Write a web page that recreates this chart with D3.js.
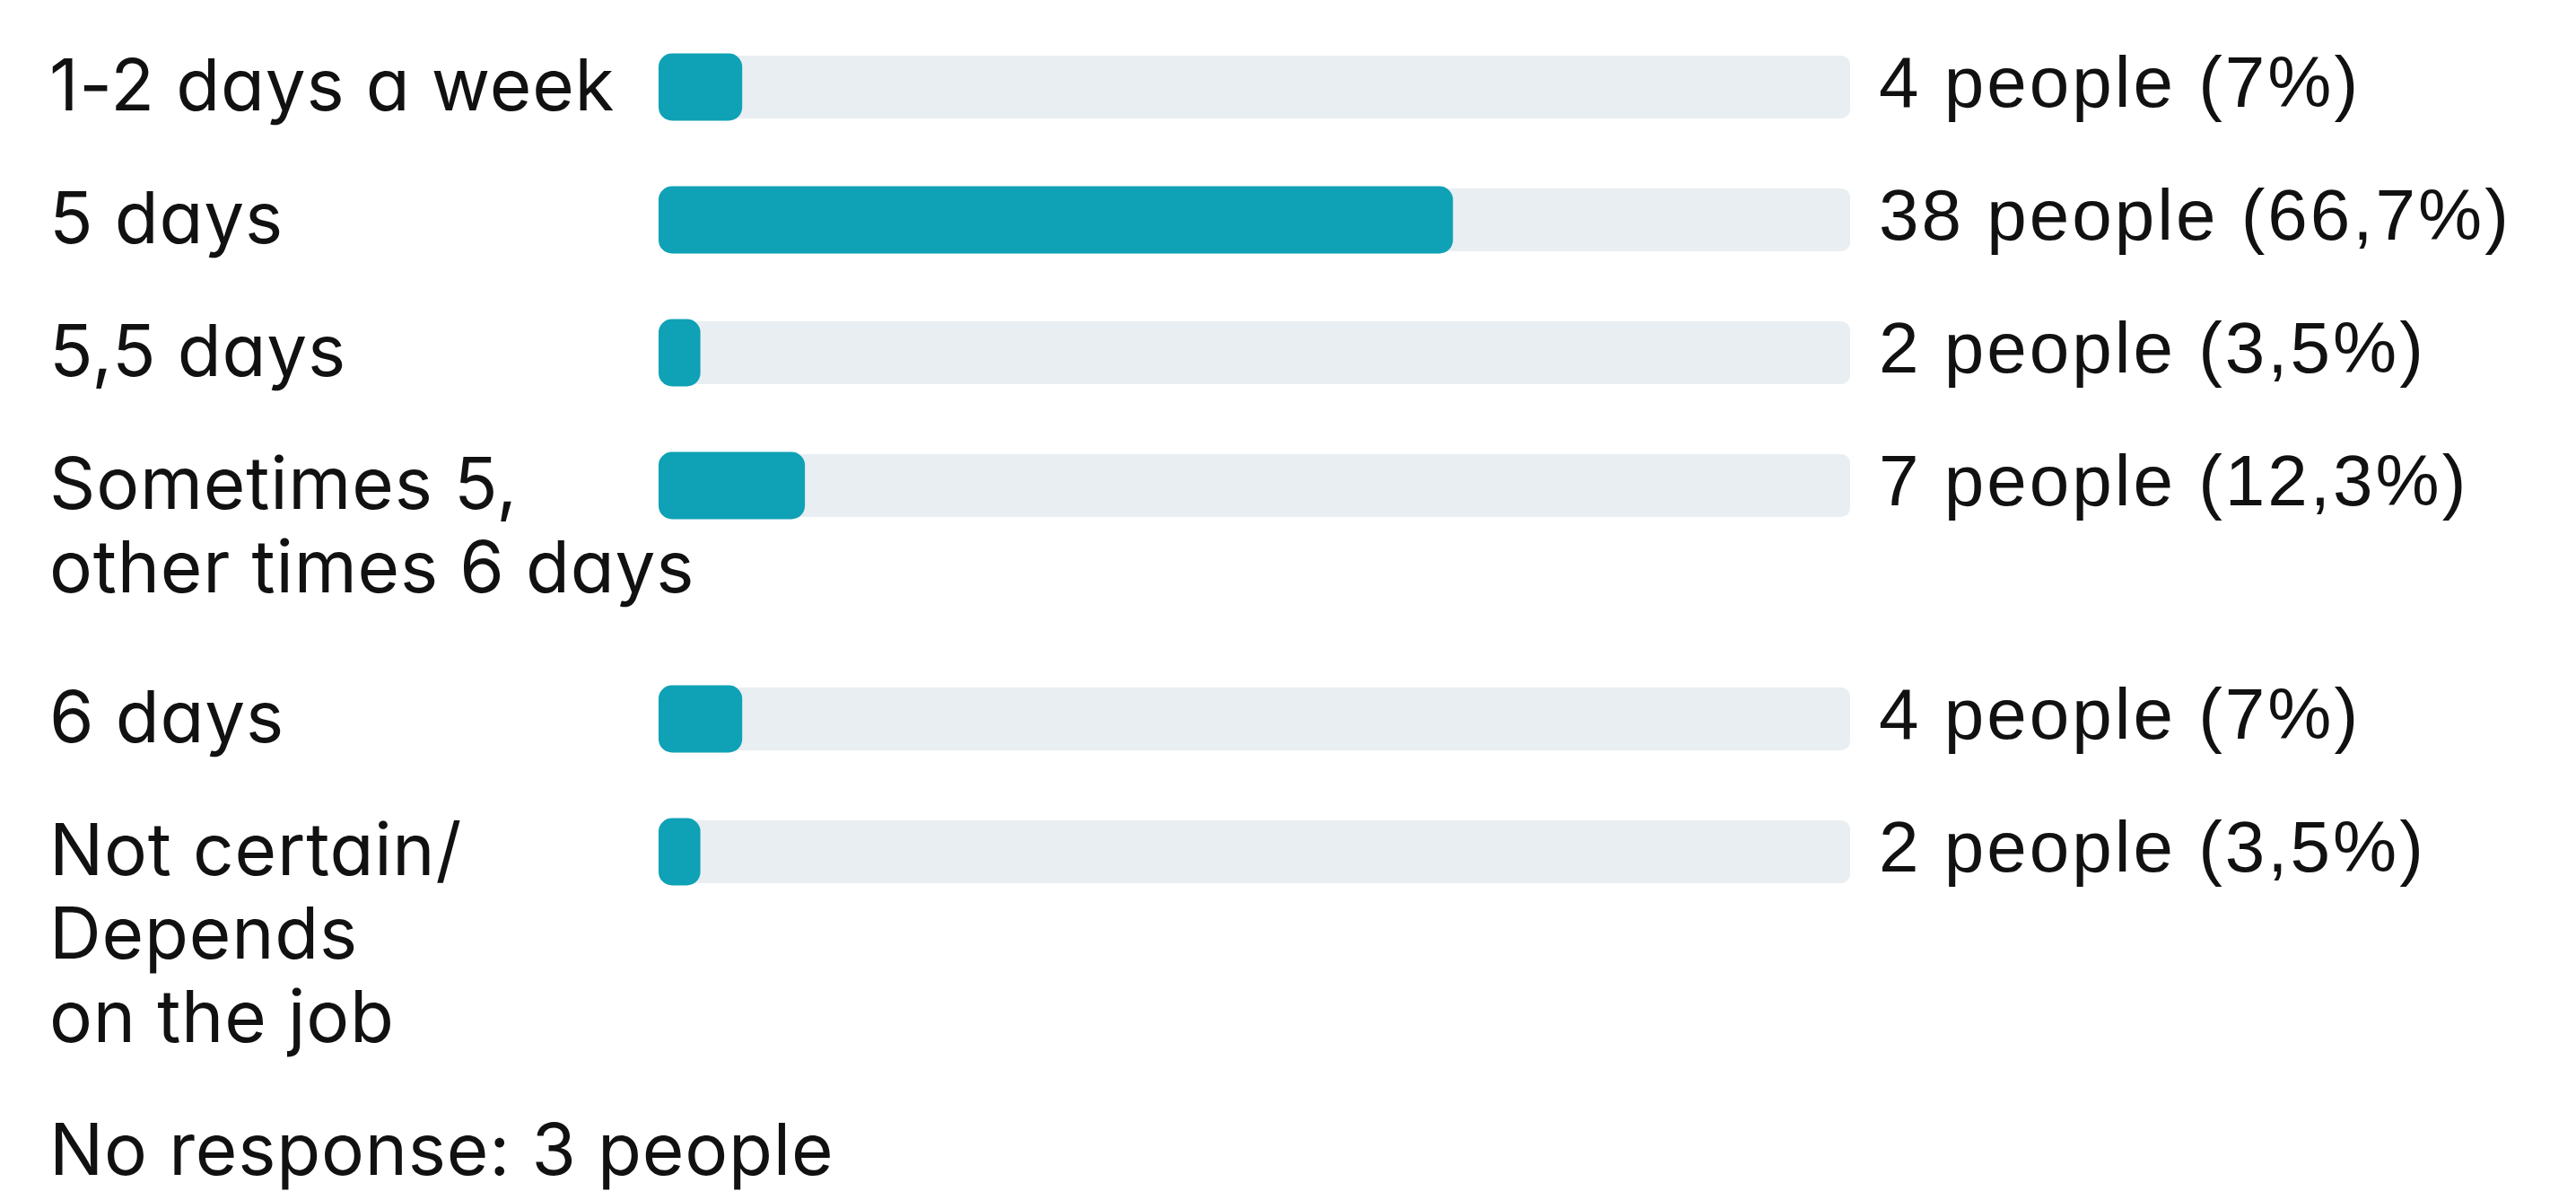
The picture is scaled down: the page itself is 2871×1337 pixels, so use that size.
<!DOCTYPE html>
<html>
<head>
<meta charset="utf-8">
<script src="https://cdn.jsdelivr.net/npm/d3@7"></script>
<style>
  html, body { margin: 0; padding: 0; background: #ffffff; }
  svg { display: block; }
</style>
</head>
<body>
<svg id="chart" width="2871" height="1337"></svg>
<script>
// ---- data ----
const categories = [
  ["1-2 days a week"],
  ["5 days"],
  ["5,5 days"],
  ["Sometimes 5,", "other times 6 days"],
  ["6 days"],
  ["Not certain/", "Depends", "on the job"]
];
const counts = [4, 38, 2, 7, 4, 2];
const noResponse = 3;
const unitLabel = "people";
const footerPrefix = "No response:";

// ---- layout ----
const W = 2871, H = 1337;
const total = d3.sum(counts);
const trackX0 = 734, trackX1 = 2062;
const barH = 75, trackH = 70, radius = 15;
const firstCenter = 97, rowPitch = 148, extraLinePitch = 112;
const lineH = 93;
const leftX = 55, rightX = 2094;

const x = d3.scaleLinear().domain([0, total]).range([trackX0, trackX1]);

// cumulative row centers
let acc = firstCenter;
const centers = categories.map((lines, i) => {
  const c = acc;
  acc += rowPitch + (lines.length - 1) * extraLinePitch;
  return c;
});

const fmt = v => {
  const s = d3.format(".1f")(v);
  return (s.endsWith(".0") ? s.slice(0, -2) : s).replace(".", ",");
};
const valueText = counts.map(c => `${c} ${unitLabel} (${fmt(c / total * 100)}%)`);

const svg = d3.select("#chart");

const rows = svg.selectAll("g.row")
  .data(categories.map((lines, i) => ({ lines, count: counts[i], cy: centers[i], label: valueText[i] })))
  .join("g").attr("class", "row");

// track
rows.append("rect")
  .attr("x", x(0))
  .attr("y", d => d.cy - trackH / 2)
  .attr("width", x(total) - x(0))
  .attr("height", trackH)
  .attr("rx", 10)
  .attr("fill", "#e8eef1");

// bar
rows.append("rect")
  .attr("x", x(0))
  .attr("y", d => d.cy - barH / 2)
  .attr("width", d => x(d.count) - x(0))
  .attr("height", barH)
  .attr("rx", radius)
  .attr("fill", "#0fa1b5");

const leftFont = sel => sel
  .attr("font-family", "Inter, 'Noto Sans', sans-serif")
  .attr("font-size", 80)
  .attr("letter-spacing", 0.8)
  .style("font-feature-settings", "'cv11' 1")
  .attr("fill", "#111");

// left labels
rows.append("text")
  .attr("x", leftX)
  .attr("y", d => d.cy + 26)
  .call(leftFont)
  .selectAll("tspan")
  .data(d => d.lines)
  .join("tspan")
  .attr("x", leftX)
  .attr("dy", (d, i) => i === 0 ? 0 : lineH)
  .text(d => d);

// right labels
rows.append("text")
  .attr("x", rightX)
  .attr("y", d => d.cy + 22)
  .attr("font-family", "'Liberation Sans', Arial, sans-serif")
  .attr("font-size", 80)
  .attr("letter-spacing", 3)
  .attr("fill", "#111")
  .text(d => d.label);

// footer
const lastLines = categories[categories.length - 1].length;
const lastBaseline = centers[centers.length - 1] + 26 + (lastLines - 1) * lineH;
svg.append("text")
  .attr("x", leftX)
  .attr("y", lastBaseline + 148)
  .call(leftFont)
  .text(`${footerPrefix} ${noResponse} ${unitLabel}`);
</script>
</body>
</html>
